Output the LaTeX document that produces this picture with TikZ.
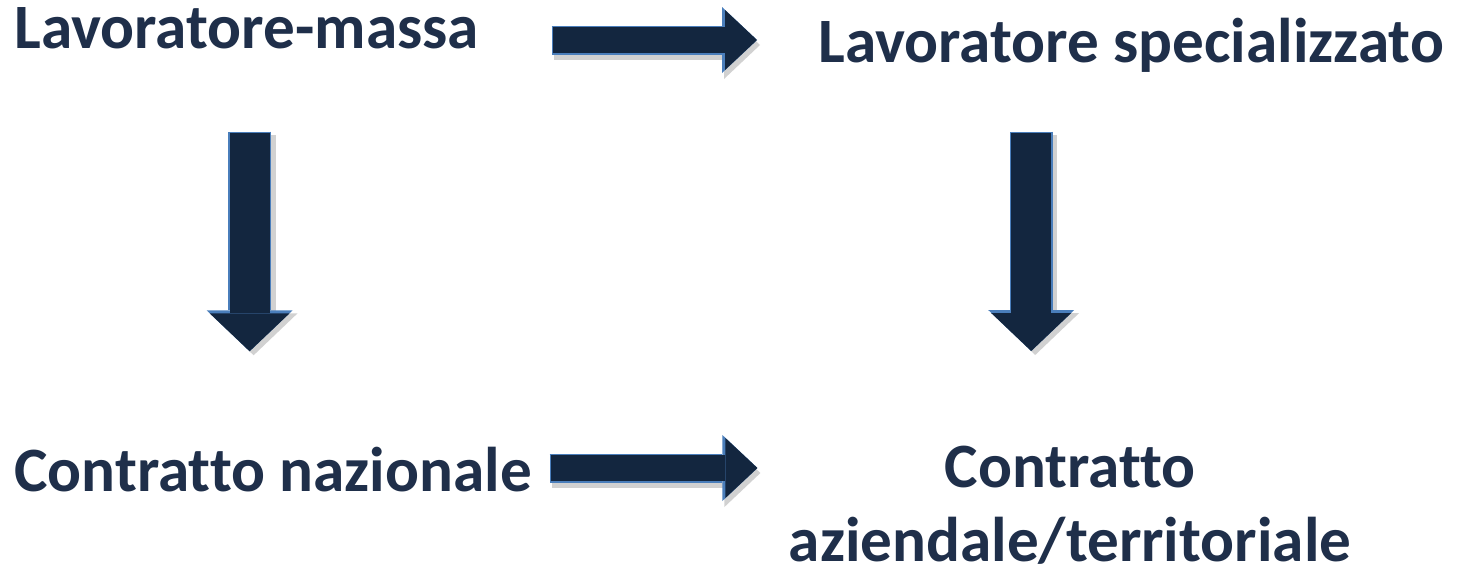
\documentclass[tikz,border=0pt]{standalone}
\usepackage{fontspec}
\setmainfont{Carlito}[Ligatures=NoCommon]
\usepackage{xcolor}
\usetikzlibrary{arrows.meta,calc}
\definecolor{textnavy}{HTML}{1F2F4A}
\definecolor{arrownavy}{HTML}{13263F}
\definecolor{arrowedge}{HTML}{4A7EBB}
\tikzset{
  lbl/.style={font=\bfseries\fontsize{31.6}{37}\selectfont, text=textnavy, inner sep=0pt},
  hflow/.style={draw=arrownavy, line width=13pt, -{Triangle[width=30pt,length=16pt,line width=0pt]},
    preaction={draw=black!18, line width=15pt, shorten <=-1pt, -{Triangle[width=34pt,length=18pt,line width=0pt]}, transform canvas={shift={(1.5pt,-2.5pt)}}},
    preaction={draw=arrowedge, line width=14.5pt, shorten <=-0.75pt, -{Triangle[width=33pt,length=17.5pt,line width=0pt]}}},
  vflow/.style={draw=arrownavy, line width=20pt, -{Triangle[width=40pt,length=19pt,line width=0pt]},
    preaction={draw=black!18, line width=22pt, shorten <=-1pt, -{Triangle[width=44pt,length=21pt,line width=0pt]}, transform canvas={shift={(2pt,-2pt)}}},
    preaction={draw=arrowedge, line width=21.5pt, shorten <=-0.75pt, -{Triangle[width=43pt,length=20.5pt,line width=0pt]}}},
}
\begin{document}
\begin{tikzpicture}[x=0.5pt,y=-0.5pt]
  \useasboundingbox (0,0) rectangle (1458,574);
  \node[lbl, anchor=base west] (lm) at (14,48) {Lavoratore-massa};
  \node[lbl, anchor=base west] (ls) at (818,62) {Lavoratore specializzato};
  \node[lbl, anchor=base west] (cn) at (14,491) {Contratto nazionale};
  \node[lbl, anchor=north, align=center] (ct) at (1070,446) {Contratto\\aziendale/territoriale};
  % horizontal arrows
  \coordinate (t0) at ($(lm.base east)+(74,-8)$);
  \draw[hflow, shorten >=30.5pt] (t0) -- (t0 -| ls.west);
  \coordinate (b0) at ($(cn.base east)+(19,-23)$);
  \draw[hflow, shorten >=15.5pt] (b0) -- (b0 -| ct.west);
  % vertical arrows
  \coordinate (l0) at ($(lm.base)+(3,85)$);
  \draw[vflow, shorten >=47.5pt] (l0) -- (l0 |- cn.north);
  \coordinate (r0) at ($(ls.base)+(-100,71)$);
  \draw[vflow, shorten >=47.5pt] (r0) -- (r0 |- ct.north);
\end{tikzpicture}
\end{document}
